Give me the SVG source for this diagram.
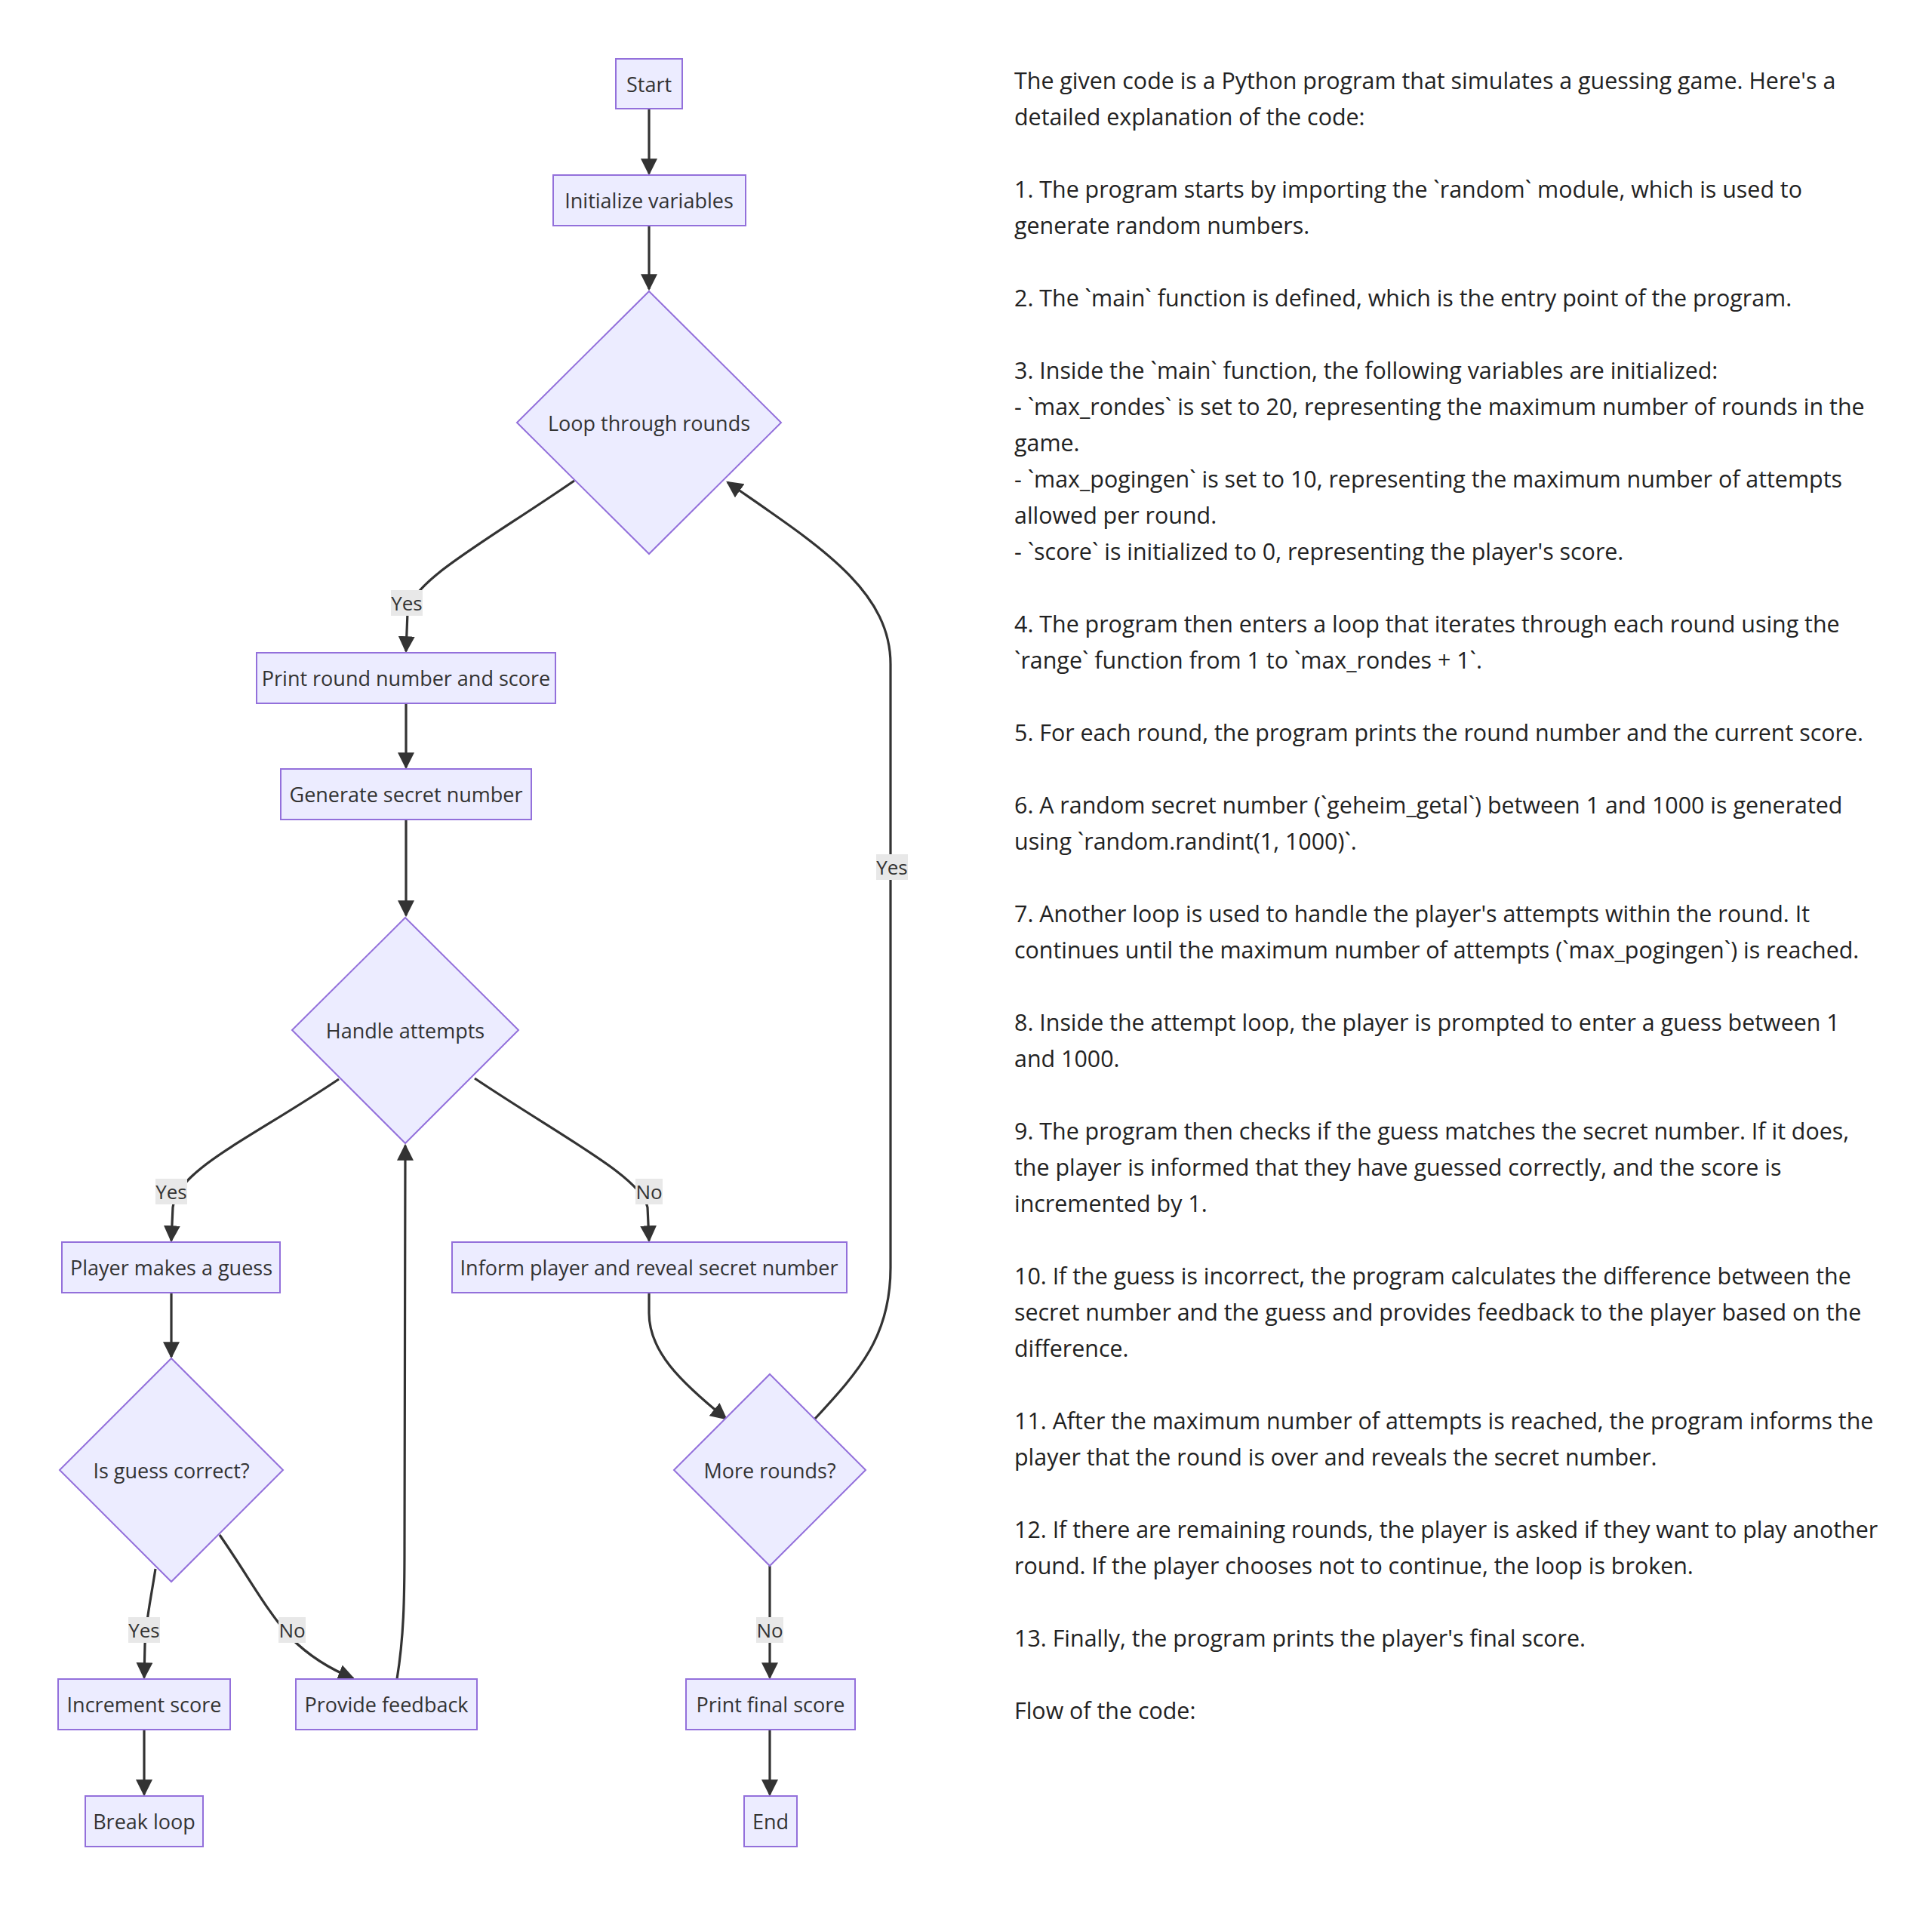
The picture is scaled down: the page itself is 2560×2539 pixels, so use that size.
<svg xmlns="http://www.w3.org/2000/svg" width="2560" height="2539" viewBox="0 0 2560 2539">
  <style>
    .node rect, .node polygon { fill: #ECECFF; stroke: #9370DB; stroke-width: 2; }
    .node text { font-family: "Open Sans", "Noto Sans", sans-serif; font-size: 27px; fill: #333; text-anchor: middle; dominant-baseline: central; }
    .edges path { fill: none; stroke: #333; stroke-width: 3.2; }
    .elabel rect { fill: #e8e8e8; }
    .elabel text { font-family: "Open Sans", "Noto Sans", sans-serif; font-size: 26px; fill: #333; text-anchor: middle; dominant-baseline: central; }
    .notes text { font-family: "Open Sans", "Noto Sans", sans-serif; font-size: 30.4px; fill: #222; }
  </style>
  <defs>
    <marker id="arrow" viewBox="0 0 10 10" refX="9" refY="5" markerUnits="userSpaceOnUse" markerWidth="22" markerHeight="22" orient="auto">
      <path d="M0,0 L10,5 L0,10 z" fill="#333"/>
    </marker>
  </defs>
  <rect width="2560" height="2539" fill="#ffffff"/>

  <!-- connectors -->
  <g class="edges">
    <path d="M860,144 L860,230" marker-end="url(#arrow)"/>
    <path d="M860,299 L860,383" marker-end="url(#arrow)"/>
    <path d="M761,637 C640,720 545,770 540,812 L538,863" marker-end="url(#arrow)"/>
    <path d="M538,932 L538,1017" marker-end="url(#arrow)"/>
    <path d="M538,1086 L538,1213" marker-end="url(#arrow)"/>
    <path d="M449,1430 C330,1510 235,1550 229,1600 L227,1644" marker-end="url(#arrow)"/>
    <path d="M629,1429 C750,1510 850,1560 858,1600 L860,1644" marker-end="url(#arrow)"/>
    <path d="M227,1713 L227,1798" marker-end="url(#arrow)"/>
    <path d="M206,2079 C198,2130 193,2150 192,2180 L191,2223" marker-end="url(#arrow)"/>
    <path d="M291,2034 C330,2090 350,2130 385,2170 Q420,2205 468,2224" marker-end="url(#arrow)"/>
    <path d="M526,2225 C535,2170 536,2120 536,2050 L537,1518" marker-end="url(#arrow)"/>
    <path d="M860,1713 L860,1740 C860,1790 900,1830 962,1880" marker-end="url(#arrow)"/>
    <path d="M1079,1881 C1140,1815 1180,1770 1180,1680 L1180,880 C1180,780 1080,720 964,639" marker-end="url(#arrow)"/>
    <path d="M1020,2075 L1020,2223" marker-end="url(#arrow)"/>
    <path d="M191,2292 L191,2378" marker-end="url(#arrow)"/>
    <path d="M1020,2292 L1020,2378" marker-end="url(#arrow)"/>
  </g>

  <!-- connector labels -->
  <g class="elabel">
    <rect x="518" y="782" width="42" height="34"/><text x="539" y="799">Yes</text>
    <rect x="1161" y="1132" width="42" height="34"/><text x="1182" y="1149">Yes</text>
    <rect x="206" y="1562" width="42" height="34"/><text x="227" y="1579">Yes</text>
    <rect x="842" y="1562" width="36" height="34"/><text x="860" y="1579">No</text>
    <rect x="170" y="2143" width="42" height="34"/><text x="191" y="2160">Yes</text>
    <rect x="369" y="2143" width="36" height="34"/><text x="387" y="2160">No</text>
    <rect x="1002" y="2143" width="36" height="34"/><text x="1020" y="2160">No</text>
  </g>

  <!-- nodes -->
  <g id="start" class="node"><rect x="816" y="78" width="88" height="66"/><text x="860" y="111">Start</text></g>
  <g id="init" class="node"><rect x="733" y="232" width="255" height="67"/><text x="860" y="265">Initialize variables</text></g>
  <g id="loop" class="node"><polygon points="860,386 1035,560 860,734 685,560"/><text x="860" y="560">Loop through rounds</text></g>
  <g id="print-round" class="node"><rect x="340" y="865" width="396" height="67"/><text x="538" y="898">Print round number and score</text></g>
  <g id="gen-secret" class="node"><rect x="372" y="1019" width="332" height="67"/><text x="538" y="1052">Generate secret number</text></g>
  <g id="attempts" class="node"><polygon points="537,1216 687,1365 537,1515 387,1365"/><text x="537" y="1365">Handle attempts</text></g>
  <g id="guess" class="node"><rect x="82" y="1646" width="289" height="67"/><text x="227" y="1679">Player makes a guess</text></g>
  <g id="inform" class="node"><rect x="599" y="1646" width="523" height="67"/><text x="860" y="1679">Inform player and reveal secret number</text></g>
  <g id="correct" class="node"><polygon points="227,1800 375,1948 227,2096 79,1948"/><text x="227" y="1948">Is guess correct?</text></g>
  <g id="more" class="node"><polygon points="1020,1821 1147,1948 1020,2075 893,1948"/><text x="1020" y="1948">More rounds?</text></g>
  <g id="increment" class="node"><rect x="77" y="2225" width="228" height="67"/><text x="191" y="2258">Increment score</text></g>
  <g id="feedback" class="node"><rect x="392" y="2225" width="240" height="67"/><text x="512" y="2258">Provide feedback</text></g>
  <g id="final" class="node"><rect x="909" y="2225" width="224" height="67"/><text x="1021" y="2258">Print final score</text></g>
  <g id="break" class="node"><rect x="113" y="2380" width="156" height="67"/><text x="191" y="2413">Break loop</text></g>
  <g id="end" class="node"><rect x="986" y="2380" width="70" height="67"/><text x="1021" y="2413">End</text></g>

  <!-- explanatory notes -->
  <g class="notes">
    <text x="1344" y="118">The given code is a Python program that simulates a guessing game. Here's a</text>
    <text x="1344" y="166">detailed explanation of the code:</text>
    <text x="1344" y="262">1. The program starts by importing the `random` module, which is used to</text>
    <text x="1344" y="310">generate random numbers.</text>
    <text x="1344" y="406">2. The `main` function is defined, which is the entry point of the program.</text>
    <text x="1344" y="502">3. Inside the `main` function, the following variables are initialized:</text>
    <text x="1344" y="550">- `max_rondes` is set to 20, representing the maximum number of rounds in the</text>
    <text x="1344" y="598">game.</text>
    <text x="1344" y="646">- `max_pogingen` is set to 10, representing the maximum number of attempts</text>
    <text x="1344" y="694">allowed per round.</text>
    <text x="1344" y="742">- `score` is initialized to 0, representing the player's score.</text>
    <text x="1344" y="838">4. The program then enters a loop that iterates through each round using the</text>
    <text x="1344" y="886">`range` function from 1 to `max_rondes + 1`.</text>
    <text x="1344" y="982">5. For each round, the program prints the round number and the current score.</text>
    <text x="1344" y="1078">6. A random secret number (`geheim_getal`) between 1 and 1000 is generated</text>
    <text x="1344" y="1126">using `random.randint(1, 1000)`.</text>
    <text x="1344" y="1222">7. Another loop is used to handle the player's attempts within the round. It</text>
    <text x="1344" y="1270">continues until the maximum number of attempts (`max_pogingen`) is reached.</text>
    <text x="1344" y="1366">8. Inside the attempt loop, the player is prompted to enter a guess between 1</text>
    <text x="1344" y="1414">and 1000.</text>
    <text x="1344" y="1510">9. The program then checks if the guess matches the secret number. If it does,</text>
    <text x="1344" y="1558">the player is informed that they have guessed correctly, and the score is</text>
    <text x="1344" y="1606">incremented by 1.</text>
    <text x="1344" y="1702">10. If the guess is incorrect, the program calculates the difference between the</text>
    <text x="1344" y="1750">secret number and the guess and provides feedback to the player based on the</text>
    <text x="1344" y="1798">difference.</text>
    <text x="1344" y="1894">11. After the maximum number of attempts is reached, the program informs the</text>
    <text x="1344" y="1942">player that the round is over and reveals the secret number.</text>
    <text x="1344" y="2038">12. If there are remaining rounds, the player is asked if they want to play another</text>
    <text x="1344" y="2086">round. If the player chooses not to continue, the loop is broken.</text>
    <text x="1344" y="2182">13. Finally, the program prints the player's final score.</text>
    <text x="1344" y="2278">Flow of the code:</text>
  </g>
</svg>
